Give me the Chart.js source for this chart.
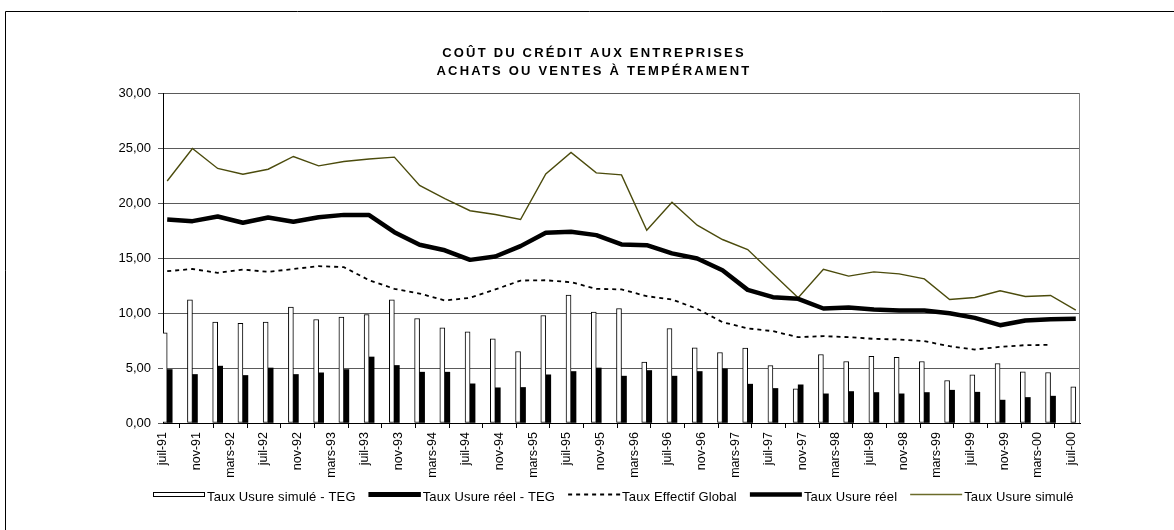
<!DOCTYPE html>
<html>
<head>
<meta charset="utf-8">
<script src="https://cdn.jsdelivr.net/npm/chart.js@4/dist/chart.umd.min.js"></script>
<style>
  html, body { margin: 0; padding: 0; background: #fff; }
  #wrap { position: relative; width: 1174px; height: 530px; }
</style>
</head>
<body>
<div id="wrap"><canvas id="c" width="1174" height="530"></canvas></div>
<script>
// ---- Data (quarterly observations, juil-91 .. juil-00) ----
const quarters = ['juil-91','oct-91',
  'janv-92','avr-92','juil-92','oct-92',
  'janv-93','avr-93','juil-93','oct-93',
  'janv-94','avr-94','juil-94','oct-94',
  'janv-95','avr-95','juil-95','oct-95',
  'janv-96','avr-96','juil-96','oct-96',
  'janv-97','avr-97','juil-97','oct-97',
  'janv-98','avr-98','juil-98','oct-98',
  'janv-99','avr-99','juil-99','oct-99',
  'janv-00','avr-00','juil-00'];

// axis labels (every 4 months)
const xTickLabels = ['juil-91','nov-91','mars-92','juil-92','nov-92','mars-93','juil-93','nov-93',
  'mars-94','juil-94','nov-94','mars-95','juil-95','nov-95','mars-96','juil-96','nov-96',
  'mars-97','juil-97','nov-97','mars-98','juil-98','nov-98','mars-99','juil-99','nov-99',
  'mars-00','juil-00'];

const tauxUsureSimuleTEG = [8.2,11.2,9.17,9.05,9.17,10.53,9.41,9.62,9.86,11.2,
  9.5,8.65,8.29,7.65,6.5,9.77,11.62,10.08,10.41,5.53,
  8.59,6.83,6.41,6.8,5.23,3.11,6.23,5.59,6.05,5.98,
  5.59,3.86,4.38,5.41,4.65,4.59,3.29];

const tauxUsureReelTEG = [4.86,4.41,5.17,4.32,5.0,4.41,4.56,4.86,6.0,5.23,
  4.62,4.62,3.56,3.2,3.23,4.38,4.68,5.0,4.26,4.77,
  4.26,4.68,4.92,3.53,3.14,3.47,2.65,2.86,2.77,2.65,
  2.77,2.98,2.8,2.08,2.32,2.44,null];

const tauxEffectifGlobal = [13.8,14.0,13.65,13.95,13.74,14.0,14.26,14.17,12.98,12.2,
  11.77,11.14,11.38,12.14,12.95,12.98,12.8,12.2,12.14,11.53,
  11.23,10.38,9.17,8.6,8.35,7.8,7.9,7.8,7.65,7.59,
  7.44,6.98,6.68,6.92,7.08,7.1,null];

const tauxUsureReel = [18.5,18.35,18.77,18.2,18.68,18.29,18.71,18.92,18.9,17.35,
  16.2,15.7,14.83,15.14,16.08,17.29,17.38,17.08,16.23,16.17,
  15.42,14.96,13.88,12.1,11.44,11.29,10.41,10.5,10.32,10.23,
  10.23,9.98,9.56,8.89,9.32,9.44,9.47];

const tauxUsureSimule = [22.0,24.95,23.14,22.62,23.07,24.23,23.38,23.77,24.0,24.17,
  21.6,20.4,19.3,18.95,18.5,22.65,24.6,22.74,22.56,17.53,
  20.07,17.98,16.68,15.77,13.56,11.38,13.98,13.35,13.74,13.56,
  13.1,11.23,11.41,12.02,11.5,11.59,10.26];

const seriesLabels = ['Taux Usure simulé - TEG','Taux Usure réel - TEG','Taux Effectif Global','Taux Usure réel','Taux Usure simulé'];
const titleLines = ['COÛT DU CRÉDIT AUX ENTREPRISES','ACHATS OU VENTES À TEMPÉRAMENT'];

// ---- helpers: time axis in months since juil-91, observation centred in its month ----
const MONTHS_PER_QUARTER = 3, MONTHS_PER_TICK = 4;
const totalMonths = (quarters.length - 1) * MONTHS_PER_QUARTER + 1;
const toPoints = arr => arr.map((v, i) => ({ x: i * MONTHS_PER_QUARTER + 0.5, y: v }));

const FONT = "'Liberation Sans', Arial, sans-serif";
const OLIVE = '#4b4b0c';

const ds = [
  { type: 'bar', label: seriesLabels[0], data: toPoints(tauxUsureSimuleTEG),
    backgroundColor: '#fff', borderColor: '#000', borderWidth: 1, borderSkipped: false,
    barThickness: 5, order: 2,
    lg: { kind: 'rect', fill: '#fff', stroke: '#000', width: 1 } },
  { type: 'bar', label: seriesLabels[1], data: toPoints(tauxUsureReelTEG),
    backgroundColor: '#000', borderWidth: 0, barThickness: 5, order: 2,
    lg: { kind: 'rect', fill: '#000', stroke: '#000', width: 1 } },
  { type: 'line', label: seriesLabels[2], data: toPoints(tauxEffectifGlobal),
    borderColor: '#000', borderWidth: 1.8, borderDash: [4, 4], pointRadius: 0, order: 1,
    lg: { kind: 'line', stroke: '#000', width: 1.8, dash: [4, 4] } },
  { type: 'line', label: seriesLabels[3], data: toPoints(tauxUsureReel),
    borderColor: '#000', borderWidth: 4.5, pointRadius: 0, order: 0, borderJoinStyle: 'round',
    lg: { kind: 'line', stroke: '#000', width: 4.5 } },
  { type: 'line', label: seriesLabels[4], data: toPoints(tauxUsureSimule),
    borderColor: OLIVE, borderWidth: 1.4, pointRadius: 0, order: 0,
    lg: { kind: 'line', stroke: '#6b6b2a', width: 1.6 } }
];

const decorPlugin = {
  id: 'decor',
  beforeDraw(chart) {
    const ctx = chart.ctx;
    ctx.save();
    ctx.fillStyle = '#fff';
    ctx.fillRect(0, 0, chart.width, chart.height);
    ctx.strokeStyle = '#000';
    ctx.lineWidth = 1;
    ctx.beginPath();
    ctx.moveTo(5.5, chart.height);
    ctx.lineTo(5.5, 11.5);
    ctx.lineTo(chart.width, 11.5);
    ctx.stroke();
    ctx.restore();
  },
  beforeDatasetsDraw(chart) {
    const { ctx, chartArea: a } = chart;
    ctx.save();
    ctx.strokeStyle = '#808080';
    ctx.lineWidth = 1;
    ctx.beginPath();
    ctx.moveTo(Math.round(a.right) - 0.5, a.top);
    ctx.lineTo(Math.round(a.right) - 0.5, a.bottom);
    ctx.stroke();
    ctx.restore();
  },
  afterDraw(chart) {
    const ctx = chart.ctx;
    // title
    ctx.save();
    ctx.fillStyle = '#000';
    ctx.font = 'bold 13px ' + FONT;
    ctx.textAlign = 'center';
    ctx.textBaseline = 'middle';
    if ('letterSpacing' in ctx) ctx.letterSpacing = '2.2px';
    ctx.fillText(titleLines[0], 594, 53);
    ctx.fillText(titleLines[1], 594, 71);
    ctx.restore();

    // legend
    ctx.save();
    ctx.font = '13px ' + FONT;
    ctx.textAlign = 'left';
    ctx.textBaseline = 'middle';
    if ('letterSpacing' in ctx) ctx.letterSpacing = '0.15px';
    const swW = 52, yBox = 494.5, yText = 497.5;
    let x = 153;
    chart.data.datasets.forEach((d) => {
      const g = d.lg;
      if (g.kind === 'rect') {
        ctx.fillStyle = g.fill;
        ctx.fillRect(x, yBox - 2.5, swW, 5);
        ctx.strokeStyle = g.stroke;
        ctx.lineWidth = g.width;
        ctx.strokeRect(x + 0.5, yBox - 2, swW - 1, 4);
      } else {
        ctx.strokeStyle = g.stroke;
        ctx.lineWidth = g.width;
        ctx.setLineDash(g.dash || []);
        ctx.beginPath();
        ctx.moveTo(x, yBox);
        ctx.lineTo(x + swW, yBox);
        ctx.stroke();
        ctx.setLineDash([]);
      }
      x += swW + 2;
      ctx.fillStyle = '#000';
      ctx.fillText(d.label, x, yText);
      x += ctx.measureText(d.label).width + 13;
    });
    ctx.restore();
  }
};

new Chart(document.getElementById('c'), {
  data: { datasets: ds },
  plugins: [decorPlugin],
  options: {
    responsive: false,
    animation: false,
    devicePixelRatio: 1,
    layout: { padding: { left: 103, right: 94, top: 93, bottom: 50 } },
    plugins: {
      tooltip: { enabled: false },
      title: { display: false },
      legend: { display: false }
    },
    scales: {
      x: {
        type: 'linear',
        min: 0,
        max: totalMonths,
        offset: false,
        afterBuildTicks: (s) => { s.ticks = xTickLabels.map((_, k) => ({ value: k * MONTHS_PER_TICK })); },
        afterFit: (s) => { s.height = 57; },
        ticks: {
          autoSkip: false, minRotation: 90, maxRotation: 90, padding: 4,
          color: '#000', font: { family: FONT, size: 12.5 },
          callback: (v) => xTickLabels[Math.round(v / MONTHS_PER_TICK)]
        },
        grid: { drawOnChartArea: false, tickLength: 5, color: '#000' },
        border: { color: '#000', width: 1 }
      },
      y: {
        min: 0, max: 30,
        afterFit: (s) => { s.width = 60; },
        ticks: {
          stepSize: 5, padding: 7, color: '#000', font: { family: FONT, size: 13 },
          callback: (v) => v.toFixed(2).replace('.', ',')
        },
        grid: { color: '#5a5a5a', tickLength: 5, lineWidth: 1 },
        border: { color: '#000', width: 1 }
      }
    }
  }
});
</script>
</body>
</html>
